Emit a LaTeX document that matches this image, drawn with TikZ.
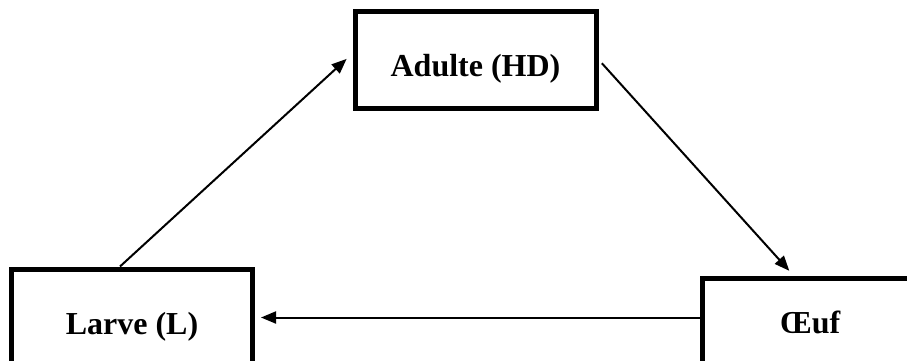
\documentclass[tikz,border=0pt]{standalone}
\usepackage{fontspec}
\setmainfont{Liberation Serif}
\usetikzlibrary{arrows.meta}

\begin{document}
\begin{tikzpicture}[x=1pt,y=-1pt,->,>={Triangle[length=15pt,width=12pt]},line width=2pt,
    stage/.style={rectangle,draw,line width=5pt,minimum width=241pt,minimum height=97pt,
        text height=42pt,text depth=8pt,font=\fontsize{32}{38}\selectfont\bfseries}]

            \useasboundingbox (0,0) rectangle (907,360);

            \node[stage] (adulte) at (475.5,59.5) {Adulte (HD)};
            \node[stage] (larve) at (132,317.5) {Larve (L)};
            \node[stage, minimum width=216pt, text depth=30pt] (oeuf) at (810,327) {Œuf};

            \draw[shorten >=8pt] ([xshift=-12pt]larve.north) to ([yshift=6pt]adulte.west);
            \draw[shorten <=5pt, shorten >=7pt] (adulte.east) to ([xshift=-16pt]oeuf.north);
            \draw[shorten >=6pt] (larve.east -| oeuf.west) to (larve.east);

        \end{tikzpicture}
\end{document}
